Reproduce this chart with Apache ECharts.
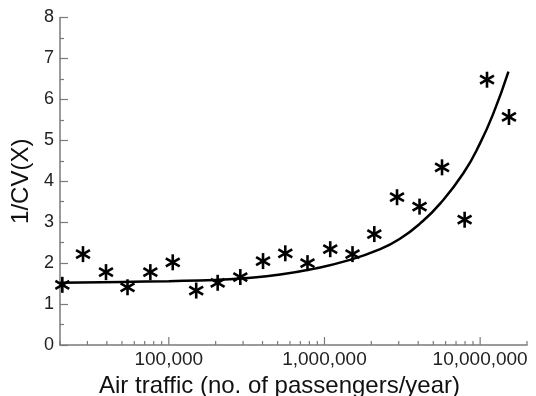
<!DOCTYPE html>
<html lang="en">
<head>
    <meta charset="UTF-8">
    <title>1/CV(X) vs air traffic</title>
    <script src="https://cdn.jsdelivr.net/npm/echarts@6/dist/echarts.min.js"></script>
    <style>
        body { margin: 0; padding: 0; background: #fff; }
        #chart { width: 536px; height: 396px; }
    </style>
</head>
<body>
    <div id="chart"></div>

    <script>
        // airports: passengers per year and the measured 1/CV(X)
        const traffic = [20700, 28100, 39500, 54300, 76100, 106000, 150000, 206000, 288000, 403000, 560000,
                         778000, 1089000, 1514000, 2090000, 2925000, 4080000, 5690000, 7950000, 11070000, 15320000];
        const invCV = [1.47, 2.22, 1.78, 1.41, 1.78, 2.02, 1.33, 1.52, 1.66, 2.05, 2.24,
                       2.0, 2.34, 2.22, 2.71, 3.61, 3.38, 4.34, 3.06, 6.48, 5.57];

        // fitted curve
        const fitX = [20000, 50000, 100000, 200000, 300000, 520000, 850000, 1400000, 2280000,
                      3070000, 4120000, 5550000, 7820000, 10000000, 12200000, 15200000];
        const fitY = [1.52, 1.54, 1.56, 1.59, 1.63, 1.72, 1.86, 2.06, 2.34,
                      2.6, 2.97, 3.46, 4.2, 4.93, 5.67, 6.68];

        const majorTicks = [100000, 1000000, 10000000];
        const minorTicks = [20000, 30000, 40000, 50000, 60000, 70000, 80000, 90000,
                            200000, 300000, 400000, 500000, 600000, 700000, 800000, 900000,
                            2000000, 3000000, 4000000, 5000000, 6000000, 7000000, 8000000, 9000000, 20000000];

        const FONT = '"Liberation Sans", Arial, Helvetica, sans-serif';
        const AXIS_GRAY = '#7a7a7a';

        function withCommas(v) {
            return String(Math.round(v)).replace(/\B(?=(\d{3})+(?!\d))/g, ',');
        }

        function isDecade(v) {
            const l = Math.log10(v);
            return Math.abs(l - Math.round(l)) < 1e-6;
        }

        // six-armed asterisk marker
        function renderStar(params, api) {
            const p = api.coord([api.value(0), api.value(1)]);
            const r = 8;
            return {
                type: 'group',
                children: [90, 30, -30].map(a => {
                    const rad = a * Math.PI / 180;
                    const dx = r * Math.cos(rad), dy = r * Math.sin(rad);
                    return {
                        type: 'line',
                        shape: { x1: p[0] - dx, y1: p[1] - dy, x2: p[0] + dx, y2: p[1] + dy },
                        style: { stroke: '#000', lineWidth: 2.6 }
                    };
                })
            };
        }

        // upward ticks on the log axis
        function tickRenderer(len) {
            return function (params, api) {
                const p = api.coord([api.value(0), 0]);
                return {
                    type: 'line',
                    shape: { x1: p[0], y1: p[1], x2: p[0], y2: p[1] - len },
                    style: { stroke: AXIS_GRAY, lineWidth: 1.2 }
                };
            };
        }

        const chart = echarts.init(document.getElementById('chart'));
        chart.setOption({
            animation: false,
            backgroundColor: '#fff',
            grid: { left: 60, right: 9, top: 17.5, bottom: 51, containLabel: false, outerBoundsMode: 'none' },
            xAxis: {
                type: 'log',
                logBase: 10,
                min: 20000,
                max: 20000000,
                name: 'Air traffic (no. of passengers/year)',
                nameLocation: 'middle',
                nameGap: 22,
                nameTextStyle: { fontFamily: FONT, fontSize: 24, color: '#111', padding: [0, 28, 0, 0] },
                axisLine: { lineStyle: { color: AXIS_GRAY, width: 1.5 } },
                axisTick: { show: false },
                splitLine: { show: false },
                axisLabel: {
                    fontFamily: FONT, fontSize: 19, color: '#222', margin: 5,
                    formatter: v => isDecade(v) ? withCommas(v) : ''
                }
            },
            yAxis: {
                type: 'value',
                min: 0,
                max: 8,
                interval: 1,
                name: '1/CV(X)',
                nameLocation: 'middle',
                nameGap: 16,
                nameTextStyle: { fontFamily: FONT, fontSize: 24, color: '#111' },
                axisLine: { show: true, lineStyle: { color: AXIS_GRAY, width: 1.5 } },
                axisTick: { show: true, inside: true, length: 8, lineStyle: { color: AXIS_GRAY, width: 1.2 } },
                minorTick: { show: true, splitNumber: 2, length: 4, lineStyle: { color: AXIS_GRAY, width: 1.2 } },
                splitLine: { show: false },
                axisLabel: { fontFamily: FONT, fontSize: 18, color: '#222', margin: 6 }
            },
            series: [
                {
                    name: 'major ticks',
                    type: 'custom',
                    silent: true,
                    renderItem: tickRenderer(8),
                    data: majorTicks.map(v => [v, 0])
                },
                {
                    name: 'minor ticks',
                    type: 'custom',
                    silent: true,
                    renderItem: tickRenderer(4),
                    data: minorTicks.map(v => [v, 0])
                },
                {
                    name: 'fit',
                    type: 'line',
                    showSymbol: false,
                    smooth: 0.5,
                    lineStyle: { color: '#000', width: 2.5 },
                    data: fitX.map((t, i) => [t, fitY[i]])
                },
                {
                    name: 'airports',
                    type: 'custom',
                    renderItem: renderStar,
                    data: traffic.map((t, i) => [t, invCV[i]])
                }
            ]
        });
    </script>
</body>
</html>
